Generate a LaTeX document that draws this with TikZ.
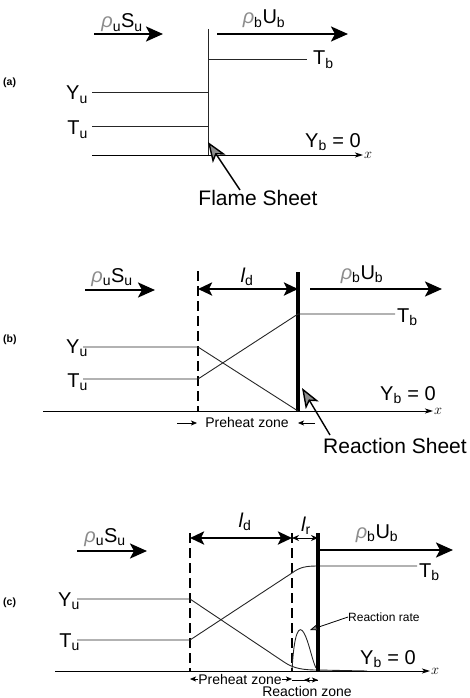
\documentclass[tikz,border=0pt]{standalone}
\usepackage{fontspec}
\setmainfont{Liberation Sans}
\usetikzlibrary{arrows.meta}
\newcommand{\rhog}{{\color{black!45}\itshape ρ}}

\tikzset{
  lbl/.style={font=\fontsize{20}{24}\selectfont, inner sep=0pt},
  big/.style={font=\fontsize{21}{25}\selectfont, inner sep=0pt},
  small/.style={font=\fontsize{14}{16}\selectfont, inner sep=0pt},
  tiny/.style={font=\fontsize{12}{14}\selectfont, inner sep=0pt},
  tag/.style={font=\bfseries\fontsize{10.5}{12}\selectfont, inner sep=0pt},
  flow/.style={line width=2.6pt, -{Stealth[length=17pt,width=15pt,inset=4pt]}},
  span/.style={line width=2.6pt, {Stealth[length=14pt,width=13pt,inset=3pt]}-{Stealth[length=14pt,width=13pt,inset=3pt]}},
  thinspan/.style={line width=1pt, {Stealth[length=7pt,width=6pt]}-{Stealth[length=7pt,width=6pt]}},
  prof/.style={line width=0.9pt, black!85},
  axis/.style={line width=0.9pt, -{Stealth[length=8pt,width=5pt,inset=2pt]}},
  zone/.style={line width=2.5pt, dash pattern=on 10pt off 5pt},
  sheet/.style={line width=4.5pt},
  pointer/.style={line width=1.4pt, -{Stealth[length=20pt,width=15pt,inset=5pt,fill=black!45]}},
  ratepointer/.style={line width=0.8pt, -{Stealth[length=9pt,width=7pt,inset=2pt,fill=black!45]}},
  mini/.style={line width=0.7pt, -{Stealth[length=6pt,width=5pt,inset=1.5pt]}},
  xlbl/.style={font=\fontsize{15}{16}\selectfont, inner sep=1pt, anchor=west},
}

\begin{document}
\begin{tikzpicture}[x=1pt, y=-1pt]
    \useasboundingbox (0,0) rectangle (470,698);

    % (a) flame sheet
    \begin{scope}
        \node[tag, anchor=west] (taga) at (3,83) {(a)};
        \coordinate (ua) at (94,34);   \coordinate (ua2) at (163,34);
        \coordinate (ba) at (217,34);  \coordinate (ba2) at (348,34);
        \coordinate (fa) at (208,29);  \coordinate (fa2) at (208,155);
        \coordinate (Ya) at (92,92);   \coordinate (Ya2) at (208,92);
        \coordinate (Ta) at (92,126);  \coordinate (Ta2) at (208,126);
        \coordinate (Tba) at (208,59); \coordinate (Tba2) at (307,59);
        \coordinate (xa) at (92,155);  \coordinate (xa2) at (363,155);
        \coordinate (pa) at (240,190); \coordinate (pa2) at (208,142);
        \node[lbl, anchor=base] (rhoSa) at (122,28) {\rhog\textsubscript{u}S\textsubscript{u}};
        \node[lbl, anchor=base] (rhoUa) at (264,24) {\rhog\textsubscript{b}U\textsubscript{b}};
        \draw[flow] (ua) -- (ua2);
        \draw[flow] (ba) -- (ba2);
        \draw[prof] (fa) -- (fa2);
        \draw[prof] (Ya) -- (Ya2);
        \draw[prof] (Ta) -- (Ta2);
        \draw[prof] (Tba) -- (Tba2);
        \draw[axis] (xa) -- (xa2);
        \node[xlbl] (xlabela) at (xa2) {$x$};
        \node[lbl, anchor=base east] (Yua) at (88,100) {Y\textsubscript{u}};
        \node[lbl, anchor=base east] (Tua) at (88,135) {T\textsubscript{u}};
        \node[lbl, anchor=base west] (Tbla) at (313,65) {T\textsubscript{b}};
        \node[lbl, anchor=base west] (Yba) at (305,147) {Y\textsubscript{b} = 0};
        \node[big, anchor=base] (FlameSheet) at (258,205) {Flame Sheet};
        \draw[pointer] (pa) -- (pa2);
    \end{scope}

    % (b) reaction sheet
    \begin{scope}
        \node[tag, anchor=west] (tagb) at (3,340) {(b)};
        \coordinate (ub) at (85,290);   \coordinate (ub2) at (155,290);
        \coordinate (bb) at (310,289);  \coordinate (bb2) at (442,289);
        \coordinate (db) at (198,271);  \coordinate (db2) at (198,411);
        \coordinate (sb) at (298,272);  \coordinate (sb2) at (298,412);
        \coordinate (Yb) at (83,347);   \coordinate (Yb2) at (198,347);
        \coordinate (Tb) at (83,379);   \coordinate (Tb2) at (198,379);
        \coordinate (Tbb) at (298,314); \coordinate (Tbb2) at (395,314);
        \coordinate (Ybb) at (298,411);
        \coordinate (xb) at (43,411);   \coordinate (xb2) at (433,411);
        \coordinate (pb) at (330,435);  \coordinate (pb2) at (302,388);
        \node[lbl, anchor=base] (rhoSb) at (112,282) {\rhog\textsubscript{u}S\textsubscript{u}};
        \node[lbl, anchor=base] (rhoUb) at (362,279) {\rhog\textsubscript{b}U\textsubscript{b}};
        \node[lbl, anchor=base] (ldb) at (247,282) {\itshape l\upshape\textsubscript{d}};
        \draw[flow] (ub) -- (ub2);
        \draw[flow] (bb) -- (bb2);
        \draw[span] (db |- bb) -- (sb |- bb);
        \draw[zone] (db) -- (db2);
        \draw[sheet] (sb) -- (sb2);
        \draw[prof] (Yb) -- (Yb2) -- (Ybb);
        \draw[prof] (Tb) -- (Tb2) -- (Tbb) -- (Tbb2);
        \draw[axis] (xb) -- (xb2);
        \node[xlbl] (xlabelb) at (xb2) {$x$};
        \node[lbl, anchor=base east] (Yub) at (88,353) {Y\textsubscript{u}};
        \node[lbl, anchor=base east] (Tub) at (88,387) {T\textsubscript{u}};
        \node[lbl, anchor=base west] (Tblb) at (397,322) {T\textsubscript{b}};
        \node[lbl, anchor=base west] (Ybzb) at (380,400) {Y\textsubscript{b} = 0};
        \node[big, anchor=base] (ReactionSheet) at (395,453) {Reaction Sheet};
        \draw[pointer] (pb) -- (pb2);
        \node[small, anchor=base] (Preheatb) at (247,427) {Preheat zone};
        \draw[mini] (177,423) -- (197,423);
        \draw[mini] (315,423) -- (298,423);
    \end{scope}

    % (c) reaction zone
    \begin{scope}
        \node[tag, anchor=west] (tagc) at (3,603) {(c)};
        \coordinate (uc) at (77,551);   \coordinate (uc2) at (147,551);
        \coordinate (bc) at (318,550);  \coordinate (bc2) at (453,550);
        \coordinate (dc) at (190,533);  \coordinate (dc2) at (190,672);
        \coordinate (rc) at (292,533);  \coordinate (rc2) at (292,672);
        \coordinate (sc) at (318,533);  \coordinate (sc2) at (318,672);
        \coordinate (Yc) at (77,599);   \coordinate (Yc2) at (190,599);
        \coordinate (Tc) at (77,640);   \coordinate (Tc2) at (190,640);
        \coordinate (Tbc) at (417,566);
        \coordinate (xc) at (55,671);   \coordinate (xc2) at (430,671);
        \node[lbl, anchor=base] (rhoSc) at (105,542) {\rhog\textsubscript{u}S\textsubscript{u}};
        \node[lbl, anchor=base] (rhoUc) at (377,538) {\rhog\textsubscript{b}U\textsubscript{b}};
        \node[lbl, anchor=base] (ldc) at (245,527) {\itshape l\upshape\textsubscript{d}};
        \node[lbl, anchor=base] (lrc) at (306,531) {\itshape l\upshape\textsubscript{r}};
        \draw[flow] (uc) -- (uc2);
        \draw[flow] (bc) -- (bc2);
        \draw[span] (190,538) -- (292,538);
        \draw[thinspan] (292,538) -- (318,538);
        \draw[zone] (dc) -- (dc2);
        \draw[zone] (rc) -- (rc2);
        \draw[prof] (Yc) -- (Yc2) -- (284,662) .. controls (294,669) and (305,670) .. (318,670) -- (367,671);
        \draw[prof] (Tc) -- (Tc2) -- (292,573) .. controls (300,567) and (306,566) .. (318,566) -- (Tbc);
        \draw[prof] (292,671) .. controls (294,632) and (299,624) .. (304,633) .. controls (309,642) and (312,660) .. (316,668);
        \draw[sheet] (sc) -- (sc2);
        \draw[axis] (xc) -- (xc2);
        \node[xlbl] (xlabelc) at (xc2) {$x$};
        \node[lbl, anchor=base east] (Yuc) at (80,606) {Y\textsubscript{u}};
        \node[lbl, anchor=base east] (Tuc) at (80,647) {T\textsubscript{u}};
        \node[lbl, anchor=base west] (Tblc) at (419,577) {T\textsubscript{b}};
        \node[lbl, anchor=base west] (Ybzc) at (360,664) {Y\textsubscript{b} = 0};
        \node[tiny, anchor=west] (ReactionRate) at (348,617) {Reaction rate};
        \draw[ratepointer] (ReactionRate.west) -- (310,630);
        \node[small, anchor=base] (Preheatc) at (240,684) {Preheat zone};
        \draw[mini] (Preheatc.west) -- (dc2 |- Preheatc.west);
        \draw[mini] (Preheatc.east) -- (rc2 |- Preheatc.east);
        \draw[mini] (rc2 |- 0,680) -- (sc2 |- 0,680);
        \draw[mini] (318,680) -- (304,680);
        \node[small, anchor=base] (ReactionZone) at (307,696) {Reaction zone};
    \end{scope}
\end{tikzpicture}
\end{document}
